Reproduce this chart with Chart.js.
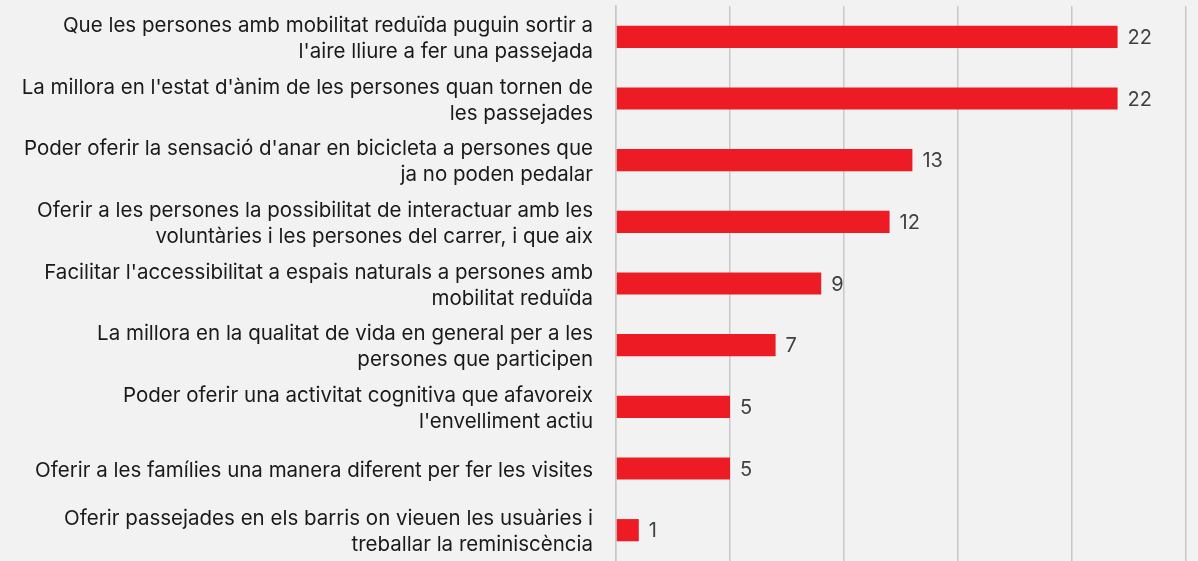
<!DOCTYPE html>
<html>
<head>
<meta charset="utf-8">
<script src="https://cdn.jsdelivr.net/npm/chart.js@4.4.0/dist/chart.umd.min.js"></script>
<style>
  html, body { margin: 0; padding: 0; background: #f2f2f2; }
  #wrap { width: 1198px; height: 561px; }
</style>
</head>
<body>
<div id="wrap"><canvas id="chart"></canvas></div>
<script>
// Categories (wrapped in two lines like the original)
const categories = [
    ["Que les persones amb mobilitat reduïda puguin sortir a", "l'aire lliure a fer una passejada"],
    ["La millora en l'estat d'ànim de les persones quan tornen de", "les passejades"],
    ["Poder oferir la sensació d'anar en bicicleta a persones que", "ja no poden pedalar"],
    ["Oferir a les persones la possibilitat de interactuar amb les", "voluntàries i les persones del carrer, i que aix"],
    ["Facilitar l'accessibilitat a espais naturals a persones amb", "mobilitat reduïda"],
    ["La millora en la qualitat de vida en general per a les", "persones que participen"],
    ["Poder oferir una activitat cognitiva que afavoreix", "l'envelliment actiu"],
    "Oferir a les famílies una manera diferent per fer les visites",
    ["Oferir passejades en els barris on vieuen les usuàries i", "treballar la reminiscència"]
];
const values = [22, 22, 13, 12, 9, 7, 5, 5, 1];
const axisMax = 25;
const axisStep = 5;

const FONT = "Inter, 'Open Sans', sans-serif";

// Etiquetes de valor al final de cada barra
const valueLabels = {
    id: 'valueLabels',
    afterDatasetsDraw(chart) {
        const ctx = chart.ctx;
        const meta = chart.getDatasetMeta(0);
        ctx.save();
        ctx.font = '20px ' + FONT;
        ctx.fillStyle = '#404040';
        ctx.textAlign = 'left';
        ctx.textBaseline = 'middle';
        meta.data.forEach((bar, i) => {
            ctx.fillText(String(values[i]), bar.x + 10, bar.y + 1);
        });
        ctx.restore();
    }
};

new Chart(document.getElementById('chart'), {
    type: 'bar',
    data: {
        labels: categories,
        datasets: [{
            data: values,
            backgroundColor: '#ed1c24',
            borderWidth: 0,
            categoryPercentage: 1,
            barPercentage: 0.36
        }]
    },
    options: {
        indexAxis: 'y',
        responsive: true,
        maintainAspectRatio: false,
        animation: false,
        layout: { padding: { top: 6, bottom: -1, left: 0, right: 12 } },
        plugins: {
            legend: { display: false },
            tooltip: { enabled: false }
        },
        scales: {
            x: {
                min: 0,
                max: axisMax,
                ticks: { display: false, stepSize: axisStep },
                grid: { color: '#c8c8c8', lineWidth: 1.5, drawTicks: false },
                border: { display: false }
            },
            y: {
                ticks: {
                    color: '#1a1a1a',
                    font: { family: FONT, size: 20.5, lineHeight: 1.28 },
                    padding: 23,
                    labelOffset: 2,
                    autoSkip: false
                },
                grid: { display: false, drawTicks: false },
                border: { display: true, color: '#c8c8c8', width: 1.5 },
                afterFit(scale) {
                    // ancho fijo del eje y sin relleno extra arriba/abajo
                    scale.width = 616;
                    scale.paddingTop = 0;
                    scale.paddingBottom = 0;
                }
            }
        }
    },
    plugins: [valueLabels]
});
</script>
</body>
</html>
